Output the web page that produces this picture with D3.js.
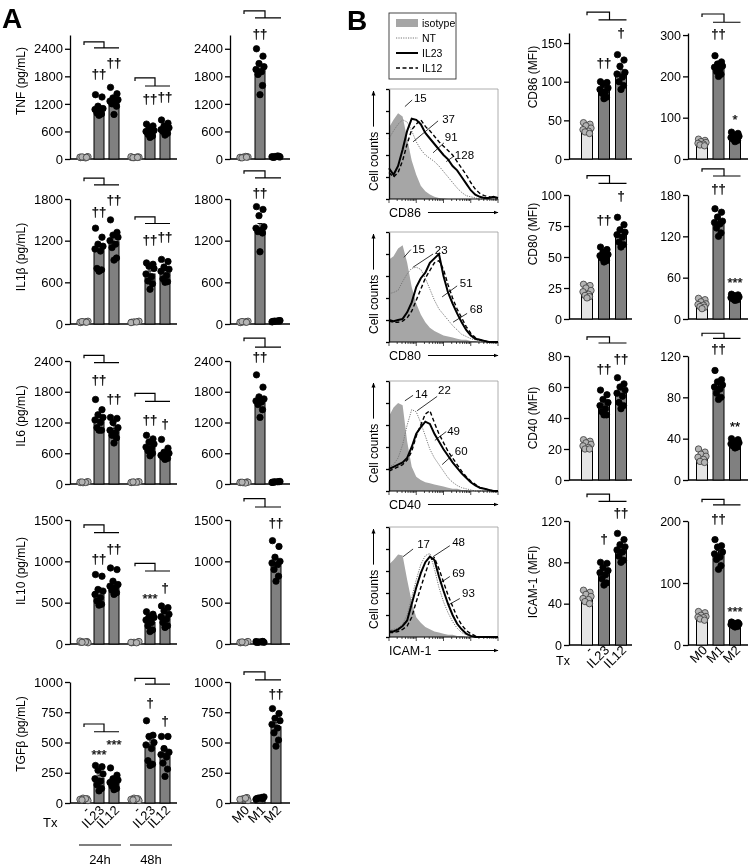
<!DOCTYPE html>
<html>
<head>
<meta charset="utf-8">
<script src="https://cdn.jsdelivr.net/npm/d3@7"></script>
<style>
  body { margin: 0; background: #fff; }
  svg { font-family: "Liberation Sans", Arial, Helvetica, sans-serif; will-change: transform; }
  .sig { opacity: 0.99; }
</style>
</head>
<body>
<div id="chart"></div>
<script>
// ---------- panel A data ----------
const cytokines = ["TNF", "IL1β", "IL6", "IL10", "TGFβ"];
const cytoMax = [2700, 1800, 2400, 1500, 1000];
const cytoTicks = [
  [0, 600, 1200, 1800, 2400], [0, 600, 1200, 1800], [0, 600, 1200, 1800, 2400],
  [0, 500, 1000, 1500], [0, 250, 500, 750, 1000]
];
const txCats = ["-", "IL23", "IL12", "-", "IL23", "IL12"];
const timeGroups = ["24h", "48h"];
const mCats = ["M0", "M1", "M2"];

const txMeans = [
  [40, 1110, 1290, 40, 590, 650],
  [30, 1075, 1185, 30, 720, 770],
  [35, 1255, 1080, 35, 735, 600],
  [25, 635, 715, 20, 262, 340],
  [30, 205, 185, 30, 480, 410]
];
const txDots = [
  [[30, 45, 35, 50, 40, 25, 45, 35], [1400, 1350, 1150, 1100, 1080, 1050, 1000, 980, 950],
   [1560, 1420, 1330, 1290, 1260, 1230, 1200, 1150, 970], [35, 45, 30, 40, 50, 40, 30, 35],
   [760, 720, 680, 620, 600, 560, 540, 500, 470], [850, 780, 720, 680, 640, 620, 600, 560, 520]],
  [[20, 35, 30, 40, 25, 30, 35, 25], [1380, 1250, 1150, 1120, 1080, 1050, 800, 780, 760],
   [1500, 1320, 1280, 1250, 1200, 1150, 1100, 950, 920], [25, 35, 30, 40, 20, 30],
   [880, 860, 830, 800, 720, 680, 620, 580, 500], [930, 900, 820, 790, 760, 700, 650, 610, 600]],
  [[30, 40, 25, 45, 35, 30, 40], [1650, 1450, 1350, 1300, 1250, 1200, 1100, 1050, 1050],
   [1300, 1280, 1200, 1100, 1050, 1000, 950, 900, 800], [30, 40, 35, 45, 30, 35, 40],
   [950, 880, 820, 780, 720, 700, 650, 600, 550], [870, 700, 620, 600, 560, 550, 520, 500, 480]],
  [[20, 30, 25, 15, 35, 25, 20], [840, 820, 660, 640, 600, 560, 520, 480, 470],
   [920, 900, 760, 720, 700, 680, 650, 620, 600], [15, 25, 20, 30, 20, 15],
   [390, 360, 330, 320, 290, 260, 220, 170, 150], [460, 440, 400, 360, 330, 300, 260, 220, 200]],
  [[25, 35, 40, 20, 30, 35, 25], [310, 300, 270, 240, 200, 180, 150, 120, 100],
   [290, 230, 200, 190, 170, 160, 140, 120, 110], [25, 35, 40, 20, 30, 35, 25],
   [680, 560, 550, 500, 480, 450, 350, 320, 310], [550, 550, 450, 420, 400, 380, 330, 280, 220]]
];
const txSig = [
  ["", "††", "††", "", "††", "††"], ["", "††", "††", "", "††", "††"],
  ["", "††", "††", "", "††", "†"], ["", "††", "††", "", "***", "†"],
  ["", "***", "***", "", "†", "†"]
];
const txSigY = [
  [0, 1765, 2004, 0, 1220, 1263], [0, 1553, 1727, 0, 1147, 1190],
  [0, 1955, 1587, 0, 1180, 1084], [0, 980, 1100, 0, 496, 629],
  [0, 364, 446, 0, 793, 645]
];
const txBrackets = [
  [[2549, 2418], [1765, 1590]], [[2100, 2003], [1543, 1447]],
  [[2510, 2367], [1767, 1612]], [[1440, 1347], [976, 883]],
  [[653, 589], [1030, 983]]
];

const mMeans = [[40, 1960, 50], [30, 1380, 40], [30, 1630, 40], [20, 25, 980], [30, 40, 630]];
const mDots = [
  [[30, 50, 40, 45, 35, 55, 25, 40], [2400, 2240, 2080, 2010, 1950, 1900, 1840, 1600, 1400], [40, 60, 55, 45, 50, 65, 35, 50]],
  [[20, 35, 30, 40, 25, 30, 35, 25], [1690, 1650, 1560, 1400, 1380, 1350, 1330, 1310, 1040], [35, 45, 40, 50, 30, 45, 40]],
  [[30, 40, 25, 35, 30, 20, 35], [2130, 1890, 1700, 1660, 1620, 1600, 1550, 1450, 1300], [35, 45, 40, 50, 30, 45, 40]],
  [[15, 25, 20, 30, 20, 15, 25], [20, 30, 25, 20, 30, 25, 20, 30], [1250, 1180, 1050, 1000, 980, 960, 900, 820, 760]],
  [[25, 45, 35, 20, 30, 40], [35, 45, 40, 50, 30, 45, 40, 35], [780, 740, 700, 680, 650, 620, 580, 520, 470]]
];
const mSig = [["", "††", ""], ["", "††", ""], ["", "††", ""], ["", "", "††"], ["", "", "††"]];
const mSigY = [[0, 2636, 0], [0, 1829, 0], [0, 2400, 0], [0, 0, 1415], [0, 0, 868]];
const mBrackets = [[3224, 3072], [2206, 2105], [2845, 2671], [1759, 1657], [1083, 1017]];

// ---------- panel B data ----------
const surface = ["CD86", "CD80", "CD40", "ICAM-1"];
const txB = ["-", "IL23", "IL12"];
const bMaxL = [163, 100, 80, 120];
const bMaxR = [305, 180, 120, 200];
const bTicksL = [[0, 50, 100, 150], [0, 25, 50, 75, 100], [0, 20, 40, 60, 80], [0, 40, 80, 120]];
const bTicksR = [[0, 100, 200, 300], [0, 60, 120, 180], [0, 40, 80, 120], [0, 100, 200]];
const bMeansL = [[40, 90, 111], [22, 51, 68], [22, 49, 56], [46, 70, 93]];
const bMeansR = [[38, 222, 52], [22, 140, 31], [23, 90, 35], [46, 147, 33]];
const bDotsL = [
  [[47, 45, 43, 40, 38, 36, 35, 33], [100, 99, 97, 92, 90, 87, 85, 80, 78], [135, 128, 120, 112, 110, 106, 100, 95, 90]],
  [[28, 27, 25, 23, 22, 20, 19, 18, 17], [58, 56, 54, 52, 51, 50, 49, 47, 46], [82, 76, 72, 70, 68, 66, 62, 60, 58]],
  [[26, 25, 24, 23, 22, 21, 20, 20], [58, 55, 52, 50, 48, 46, 44, 42, 42], [66, 62, 60, 58, 56, 54, 50, 48, 46]],
  [[53, 51, 49, 47, 45, 44, 42, 40], [80, 79, 75, 72, 70, 68, 64, 60, 58], [108, 102, 97, 95, 92, 90, 86, 82, 80]]
];
const bDotsR = [
  [[48, 45, 42, 40, 38, 36, 34, 32], [250, 235, 230, 225, 222, 218, 212, 205, 200], [65, 62, 58, 55, 52, 50, 48, 45, 42]],
  [[30, 28, 25, 22, 21, 20, 18, 17, 15], [160, 155, 148, 142, 140, 138, 132, 125, 120], [36, 35, 34, 32, 31, 30, 29, 28, 27]],
  [[30, 27, 25, 23, 22, 20, 18, 17], [106, 97, 95, 92, 90, 88, 84, 80, 78], [40, 39, 37, 36, 35, 34, 33, 32, 31]],
  [[54, 52, 48, 46, 45, 44, 42, 40], [170, 160, 158, 150, 147, 142, 138, 128, 122], [37, 36, 35, 34, 33, 32, 31, 30, 29]]
];
const bSigL = [["", "††", "†"], ["", "††", "†"], ["", "††", "††"], ["", "†", "††"]];
const bSigYL = [[0, 119, 158], [0, 77, 96], [0, 69, 75.5], [0, 99, 124]];
const bSigR = [["", "††", "*"], ["", "††", "***"], ["", "††", "**"], ["", "††", "***"]];
const bSigYR = [[0, 293, 85], [0, 183, 46], [0, 123, 47], [0, 197, 47]];
const bBracketsL = [[190, 180], [115.6, 109.4], [92.3, 88.4], [146, 139]];
const bBracketsR = [[351, 331], [218, 207.6], [142, 137], [235, 226]];

// flow histograms (% of max, 25 bins across the log axis)
const histLegend = ["isotype", "NT", "IL23", "IL12"];
const histIso = [
  [65, 72, 78, 75, 55, 35, 22, 12, 7, 4, 2, 1, 0.5, 0, 0, 0, 0, 0, 0, 0, 0, 0, 0, 0, 0],
  [75, 78, 85, 88, 72, 50, 35, 25, 18, 13, 10, 8, 6, 5, 4, 3, 2, 2, 1, 1, 0, 0, 0, 0, 0],
  [68, 76, 80, 78, 45, 22, 13, 10, 8, 7, 6, 5, 4, 3, 2, 2, 1, 1, 0, 0, 0, 0, 0, 0, 0],
  [66, 70, 75, 74, 52, 32, 18, 13, 9, 7, 5, 4, 3, 2, 2, 1, 1, 0, 0, 0, 0, 0, 0, 0, 0]
];
const histNT = [
  [55, 62, 68, 72, 70, 62, 52, 45, 40, 37, 34, 30, 25, 20, 15, 10, 6, 3, 2, 1, 0, 0, 0, 0, 0],
  [44, 45, 47, 55, 62, 67, 68, 66, 58, 48, 38, 30, 25, 20, 15, 11, 7, 5, 3, 2, 1, 0, 0, 0, 0],
  [22, 24, 30, 42, 60, 74, 72, 62, 50, 38, 30, 24, 18, 12, 8, 5, 3, 2, 1, 0, 0, 0, 0, 0, 0],
  [6, 7, 8, 12, 20, 36, 52, 66, 74, 76, 62, 45, 32, 22, 14, 8, 4, 2, 1, 0, 0, 0, 0, 0, 0]
];
const histIL23 = [
  [28, 22, 30, 45, 62, 73, 72, 68, 60, 55, 50, 45, 40, 36, 30, 26, 20, 14, 8, 4, 2, 1, 1, 2, 1],
  [20, 19, 20, 21, 27, 36, 50, 58, 63, 72, 76, 80, 60, 45, 35, 26, 18, 11, 6, 3, 2, 1, 0, 0, 0],
  [20, 22, 24, 26, 30, 40, 52, 58, 63, 61, 52, 45, 38, 32, 26, 21, 16, 12, 8, 5, 3, 2, 1, 0, 0],
  [5, 5, 7, 10, 15, 30, 45, 58, 68, 73, 70, 55, 42, 30, 20, 12, 7, 3, 1, 0, 0, 0, 0, 0, 0]
];
const histIL12 = [
  [24, 20, 24, 35, 50, 63, 68, 72, 66, 62, 57, 52, 48, 44, 40, 34, 28, 22, 15, 9, 5, 3, 2, 1, 1],
  [19, 18, 18, 19, 22, 28, 38, 48, 58, 65, 72, 74, 66, 52, 40, 30, 22, 14, 8, 4, 2, 1, 0, 0, 0],
  [18, 20, 22, 24, 28, 36, 50, 60, 70, 73, 62, 52, 44, 36, 30, 24, 18, 13, 9, 6, 3, 2, 1, 0, 0],
  [4, 4, 5, 7, 10, 18, 32, 45, 58, 70, 72, 62, 50, 38, 28, 18, 11, 6, 3, 1, 0, 0, 0, 0, 0]
];
// MFI labels: text, text pos (bin, %), pointer from/to (bin, %)
const histMFI = [
  [["15", 5.5, 88, 3.5, 84, 5.1, 90], ["37", 11.7, 69, 5.3, 52, 10.8, 71],
   ["91", 12.3, 53, 9.7, 42, 12.1, 51], ["128", 14.5, 36, 12.6, 34, 14.3, 39]],
  [["15", 5.1, 81, 3.3, 77, 4.8, 84], ["23", 10.1, 80, 5.3, 68, 9.7, 80],
   ["51", 15.6, 50, 11.7, 41, 15.0, 51], ["68", 17.8, 26, 14.1, 18, 17.2, 26]],
  [["14", 5.7, 85, 3.5, 82, 5.3, 87], ["22", 10.8, 88, 6.2, 73, 10.6, 86],
   ["49", 12.8, 51, 10.1, 46, 12.6, 54], ["60", 14.5, 33, 11.7, 24, 14.1, 33]],
  [["17", 6.2, 81, 3.1, 73, 5.3, 80], ["48", 13.9, 83, 9.7, 73, 13.4, 83],
   ["69", 13.9, 55, 11.2, 49, 13.4, 55], ["93", 16.1, 36, 13.0, 29, 15.6, 35]]
];

// ---------- drawing ----------
const FONT = "'Liberation Sans', Arial, Helvetica, sans-serif";
const svg = d3.select("#chart").append("svg").attr("width", 750).attr("height", 868);
const defs = svg.append("defs");
defs.append("marker").attr("id", "arr").attr("viewBox", "0 0 10 10")
  .attr("refX", 9).attr("refY", 5).attr("markerWidth", 5).attr("markerHeight", 5)
  .attr("orient", "auto").attr("markerUnits", "userSpaceOnUse")
  .append("path").attr("d", "M0,1L10,5L0,9z").attr("fill", "#000");

const jitter = [-3.5, 3, -1, 4, -4, 1.5, -2, 2.5, 0];

function barPanel(o) {
  const y = d3.scaleLinear().domain([0, o.max]).range([o.baseline, o.top]);
  const g = svg.append("g");
  const ax = g.append("g").attr("transform", `translate(${o.axisX},0)`)
    .call(d3.axisLeft(y).tickValues(o.ticks).tickFormat(d3.format("d"))
      .tickSize(5).tickPadding(2).tickSizeOuter(0))
    .attr("font-family", FONT).attr("font-size", o.fs);
  ax.selectAll("path, line").attr("stroke-width", 1.3);
  g.append("line").attr("x1", o.axisX).attr("x2", o.endX)
    .attr("y1", o.baseline).attr("y2", o.baseline)
    .attr("stroke", "#000").attr("stroke-width", 1.3);

  o.means.forEach((m, i) => {
    const cx = o.xs[i], ctrl = o.ctrl[i], vals = o.dots[i];
    g.append("rect").attr("x", cx - o.bw / 2).attr("y", y(m))
      .attr("width", o.bw).attr("height", o.baseline - y(m))
      .attr("fill", ctrl ? o.ctrlFill : "#808080")
      .attr("stroke", "#000").attr("stroke-width", 1);
    const sem = d3.deviation(vals) / Math.sqrt(vals.length);
    g.append("path")
      .attr("d", `M${cx},${y(m)}V${y(m + sem)}M${cx - 2.5},${y(m + sem)}H${cx + 2.5}`)
      .attr("stroke", "#000").attr("stroke-width", 1).attr("fill", "none");
    g.selectAll(null).data(vals).join("circle")
      .attr("cx", (d, j) => cx + jitter[j % jitter.length])
      .attr("cy", d => y(d)).attr("r", 3.2)
      .attr("fill", ctrl ? "#b4b4b4" : "#000")
      .attr("stroke", ctrl ? "#3a3a3a" : "#000").attr("stroke-width", 0.8);
    if (o.sig[i]) {
      g.append("text").attr("class", "sig").attr("x", cx).attr("y", y(o.sigY[i]))
        .attr("text-anchor", "middle").attr("font-size", 13)
        .attr("fill", "#000").attr("stroke", "#000").attr("stroke-width", 0.25)
        .text(o.sig[i]);
    }
  });

  o.brackets.forEach(b => {
    const [i0, i1, i2] = b.bars;
    const yt = y(b.top), yl = y(b.low);
    const xm = o.xs[i1] + o.bw / 2;
    g.append("path")
      .attr("d", `M${o.xs[i0]},${yt + 3}V${yt}H${xm}V${yl}` +
                 `M${o.xs[i1] - o.bw / 2},${yl}H${o.xs[i2] + o.bw / 2}`)
      .attr("fill", "none").attr("stroke", "#000").attr("stroke-width", 1.2);
  });
  return y;
}

function yLabel(text, x, cy, fs) {
  svg.append("text").attr("transform", `translate(${x},${cy}) rotate(-90)`)
    .attr("text-anchor", "middle").attr("font-size", fs).text(text);
}

function rotLabels(labels, xs, yTop, fs) {
  svg.selectAll(null).data(labels).join("text")
    .attr("transform", (d, i) => `translate(${xs[i] + 6},${yTop}) rotate(-45)`)
    .attr("text-anchor", "end").attr("font-size", fs).text(d => d);
}

// ---- panel A ----
const rowBase = [159, 324, 484, 644, 803];
const rowTop = [35, 199, 361, 520, 682];
const rowLabelY = [81, 257, 416, 571, 734];
const xA = d3.scaleLinear().domain([0, 5.4]).range([84, 165]);
const xsA = txCats.map((c, i) => xA(i + (i >= 3 ? 0.4 : 0)));
const xM = d3.scalePoint().domain(mCats).range([244, 276]);
const xsM = mCats.map(c => xM(c));

cytokines.forEach((name, r) => {
  barPanel({
    axisX: 70, endX: 177, baseline: rowBase[r], top: rowTop[r], max: cytoMax[r],
    ticks: cytoTicks[r], fs: 13, xs: xsA, bw: 10, means: txMeans[r], dots: txDots[r],
    ctrl: txCats.map(c => c === "-"), ctrlFill: "#d4d4d4",
    sig: txSig[r], sigY: txSigY[r],
    brackets: txBrackets[r].map((b, k) => ({bars: [k * 3, k * 3 + 1, k * 3 + 2], top: b[0], low: b[1]}))
  });
  barPanel({
    axisX: 230, endX: 290, baseline: rowBase[r], top: rowTop[r], max: cytoMax[r],
    ticks: cytoTicks[r], fs: 13, xs: xsM, bw: 10, means: mMeans[r], dots: mDots[r],
    ctrl: mCats.map(c => c === "M0"), ctrlFill: "#d4d4d4",
    sig: mSig[r], sigY: mSigY[r],
    brackets: [{bars: [0, 1, 2], top: mBrackets[r][0], low: mBrackets[r][1]}]
  });
  yLabel(`${name} (pg/mL)`, 25, rowLabelY[r], 12);
});

svg.append("text").attr("x", 43).attr("y", 827).attr("font-size", 13).text("Tx");
rotLabels(txCats, xsA, 811, 13);
rotLabels(mCats, xsM, 811, 13);
timeGroups.forEach((t, k) => {
  const x1 = xsA[k * 3] - 5, x2 = xsA[k * 3 + 2] + 7;
  svg.append("line").attr("x1", x1).attr("x2", x2).attr("y1", 845).attr("y2", 845)
    .attr("stroke", "#000").attr("stroke-width", 1.2);
  svg.append("text").attr("x", (x1 + x2) / 2).attr("y", 864)
    .attr("text-anchor", "middle").attr("font-size", 13).text(t);
});

svg.append("text").attr("x", 2).attr("y", 28).attr("font-size", 28)
  .attr("font-weight", "bold").text("A");
svg.append("text").attr("x", 347).attr("y", 30).attr("font-size", 28)
  .attr("font-weight", "bold").text("B");

// ---- panel B bars ----
const bBase = [159, 319, 480, 645];
const bTop = [33, 195, 356, 521];
const bLabelY = [77, 234, 418, 582];
const xB = d3.scalePoint().domain(txB).range([587, 621]);
const xsB = txB.map(c => xB(c));
const xBR = d3.scalePoint().domain(mCats).range([702, 735]);
const xsBR = mCats.map(c => xBR(c));

surface.forEach((name, r) => {
  barPanel({
    axisX: 569, endX: 632, baseline: bBase[r], top: bTop[r], max: bMaxL[r],
    ticks: bTicksL[r], fs: 12.5, xs: xsB, bw: 11, means: bMeansL[r], dots: bDotsL[r],
    ctrl: [true, false, false], ctrlFill: "#e4e4e4",
    sig: bSigL[r], sigY: bSigYL[r],
    brackets: [{bars: [0, 1, 2], top: bBracketsL[r][0], low: bBracketsL[r][1]}]
  });
  barPanel({
    axisX: 688, endX: 748, baseline: bBase[r], top: bTop[r], max: bMaxR[r],
    ticks: bTicksR[r], fs: 12.5, xs: xsBR, bw: 11, means: bMeansR[r], dots: bDotsR[r],
    ctrl: [true, false, false], ctrlFill: "#e4e4e4",
    sig: bSigR[r], sigY: bSigYR[r],
    brackets: [{bars: [0, 1, 2], top: bBracketsR[r][0], low: bBracketsR[r][1]}]
  });
  yLabel(`${name} (MFI)`, 537, bLabelY[r], 12);
});
svg.append("text").attr("x", 556).attr("y", 665).attr("font-size", 12.5).text("Tx");
rotLabels(txB, xsB, 651, 13);
rotLabels(mCats, xsBR, 651, 13);

// ---- panel B histograms ----
const HX0 = 389, HX1 = 498, HH = 110;
const histTop = [89, 232, 381, 527];

function histPanel(r) {
  const top = histTop[r], bottom = top + HH;
  const x = d3.scaleLinear().domain([0, 24]).range([HX0, HX1]);
  const y = d3.scaleLinear().domain([0, 100]).range([bottom, top]);
  const g = svg.append("g");
  g.append("path").attr("d", `M${HX0},${top}H${HX1}V${bottom}`)
    .attr("fill", "none").attr("stroke", "#999").attr("stroke-width", 0.8);

  const idx = d3.range(histIso[r].length);
  g.append("path").datum(idx)
    .attr("d", d3.area().x(i => x(i)).y0(bottom).y1(i => y(histIso[r][i])))
    .attr("fill", "#a6a6a6");
  const line = arr => d3.line().x(i => x(i)).y(i => y(arr[i]))(idx);
  g.append("path").attr("d", line(histNT[r])).attr("fill", "none")
    .attr("stroke", "#777").attr("stroke-width", 1).attr("stroke-dasharray", "1.2,1.2");
  g.append("path").attr("d", line(histIL12[r])).attr("fill", "none")
    .attr("stroke", "#000").attr("stroke-width", 1.4).attr("stroke-dasharray", "4,2.5");
  g.append("path").attr("d", line(histIL23[r])).attr("fill", "none")
    .attr("stroke", "#000").attr("stroke-width", 2);

  // left axis
  const ax = g.append("g").attr("transform", `translate(${HX0},0)`)
    .call(d3.axisLeft(y).tickValues([0, 20, 40, 60, 80, 100]).tickSize(3)
      .tickFormat("").tickSizeOuter(0));
  ax.selectAll("path, line").attr("stroke-width", 1.3);
  // bottom log axis
  const xl = d3.scaleLog().domain([1, 1e4]).range([HX0, HX1]);
  g.selectAll(null).data(xl.ticks()).join("line")
    .attr("x1", d => xl(d)).attr("x2", d => xl(d))
    .attr("y1", bottom).attr("y2", d => bottom + (Math.abs(Math.log10(d) - Math.round(Math.log10(d))) < 1e-9 ? 4 : 2))
    .attr("stroke", "#000").attr("stroke-width", 0.7);
  g.append("line").attr("x1", HX0).attr("x2", HX1).attr("y1", bottom).attr("y2", bottom)
    .attr("stroke", "#000").attr("stroke-width", 1.2);

  // MFI labels
  histMFI[r].forEach(l => {
    g.append("line").attr("x1", x(l[3])).attr("y1", y(l[4])).attr("x2", x(l[5])).attr("y2", y(l[6]))
      .attr("stroke", "#000").attr("stroke-width", 0.8);
    g.append("text").attr("x", x(l[1])).attr("y", y(l[2])).attr("font-size", 11.5).text(l[0]);
  });

  // x label with arrow
  const xt = g.append("text").attr("x", HX0).attr("y", bottom + 18).attr("font-size", 12.5).text(surface[r]);
  const tl = xt.node().getComputedTextLength();
  g.append("line").attr("x1", HX0 + tl + 7).attr("x2", HX1).attr("y1", bottom + 13.5).attr("y2", bottom + 13.5)
    .attr("stroke", "#000").attr("stroke-width", 1).attr("marker-end", "url(#arr)");
  // y label with arrow
  const yStart = bottom - 8;
  const yt = g.append("text").attr("transform", `translate(378,${yStart}) rotate(-90)`)
    .attr("font-size", 12).text("Cell counts");
  const yl = yt.node().getComputedTextLength();
  g.append("line").attr("x1", 373.5).attr("x2", 373.5).attr("y1", yStart - yl - 5).attr("y2", top + 2)
    .attr("stroke", "#000").attr("stroke-width", 1).attr("marker-end", "url(#arr)");
}
surface.forEach((s, r) => histPanel(r));

// legend
const lg = svg.append("g");
lg.append("rect").attr("x", 389).attr("y", 13).attr("width", 67).attr("height", 66)
  .attr("fill", "#fff").attr("stroke", "#333").attr("stroke-width", 0.9);
const ly = d3.scalePoint().domain(histLegend).range([23, 68]);
histLegend.forEach(k => {
  const yy = ly(k);
  if (k === "isotype") {
    lg.append("rect").attr("x", 396).attr("y", yy - 4).attr("width", 22).attr("height", 8).attr("fill", "#a6a6a6");
  } else {
    lg.append("line").attr("x1", 396).attr("x2", 418).attr("y1", yy).attr("y2", yy)
      .attr("stroke", k === "NT" ? "#777" : "#000")
      .attr("stroke-width", k === "IL23" ? 2 : (k === "NT" ? 1 : 1.4))
      .attr("stroke-dasharray", k === "NT" ? "1.2,1.2" : (k === "IL12" ? "4,2.5" : null));
  }
  lg.append("text").attr("x", 422).attr("y", yy).attr("dy", "0.35em")
    .attr("font-size", 10.5).text(k);
});
</script>
</body>
</html>
